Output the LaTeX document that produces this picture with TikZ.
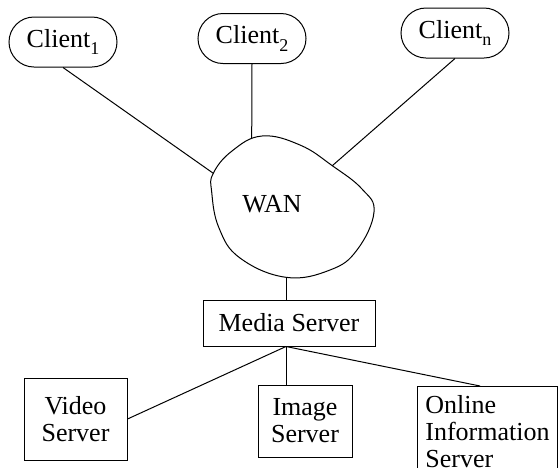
\documentclass[tikz,border=0pt]{standalone}
\usepackage{fontspec}
\setmainfont{Liberation Serif}
\newfontfamily\diagfont{Liberation Serif}
\newcommand{\mysubs}[1]{\raisebox{-0.28em}{\fontsize{18}{18}\selectfont #1}}
\begin{document}
\begin{tikzpicture}[x=1pt,y=-1pt, line width=1pt,
  every node/.style={font=\diagfont\fontsize{26}{27}\selectfont},
  client/.style={draw, rounded corners=25pt, minimum width=108pt, minimum height=50pt, inner sep=0pt},
  srvbox/.style={draw, inner sep=0pt, align=center}]
\useasboundingbox (0,0) rectangle (558,467);
\node[client] (c1) at (63,42) {Client\mysubs{1}};
\node[client] (c2) at (252,38.5) {Client\mysubs{2}};
\node[client] (cn) at (455,33) {Client\mysubs{n}};
\draw plot[smooth cycle, tension=0.7] coordinates {(213.3,173.3) (211.7,192) (219,228) (240,258) (286,277.3) (330,270) (357,250) (374,212) (362,189) (332.3,165.7) (300,145) (262,136) (232,151)};
\coordinate (b1) at (213.3,173.3);
\coordinate (b2) at (251.7,138.5);
\coordinate (bn) at (332.3,165.7);
\coordinate (wb) at (286,277.3);
\node (wan) at (272,204) {WAN};
\draw (c1.south) -- (b1);
\draw (c2.south) -- (b2);
\draw (cn.south) -- (bn);
\node[srvbox, minimum width=172pt, minimum height=46pt] (ms) at (289,323) {Media Server};
\draw (wb) -- (wb |- ms.north);
\coordinate (mj) at (ms.south -| wb);
\node[srvbox, minimum width=103pt, minimum height=82pt] (vs) at (75.5,419) {Video\\Server};
\node[srvbox, minimum width=94pt, minimum height=72pt] (is) at (305,421) {Image\\Server};
\node[draw, align=left, anchor=north west, minimum width=140pt, minimum height=90pt, inner sep=0pt] (ois) at (417,386) {Online\\Information\\Server};
\draw (mj) -- (vs.east);
\draw (mj) -- (mj |- is.north);
\draw (mj) -- ([xshift=63pt]ois.north west);
\end{tikzpicture}
\end{document}
